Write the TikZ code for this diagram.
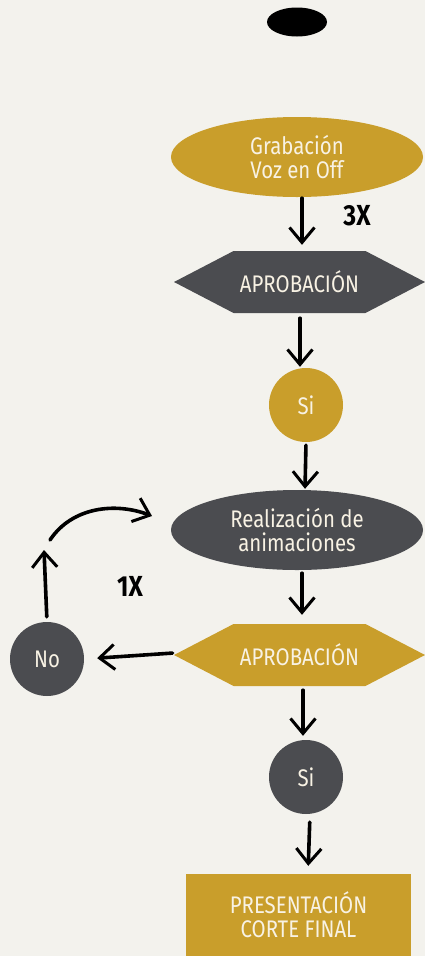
\documentclass[tikz,border=0pt]{standalone}
\usepackage{fontspec}
\setmainfont{Fira Sans}[FakeStretch=0.85]
\usetikzlibrary{shapes.geometric,shapes.symbols,arrows.meta}
\definecolor{paper}{RGB}{243,242,237}
\definecolor{gold}{RGB}{201,158,43}
\definecolor{slate}{RGB}{75,76,80}
\definecolor{cream}{RGB}{248,242,228}
\tikzset{
  lbl/.style={text=cream,font=\fontsize{24}{24}\selectfont,align=center,inner sep=0pt},
  ovalbox/.style={lbl,ellipse,minimum width=252pt,minimum height=80pt},
  hexbox/.style={lbl,signal,signal to=west and east,signal pointer angle=55,minimum width=251pt,minimum height=62pt},
  roundbox/.style={lbl,circle,minimum size=74pt},
  rectbox/.style={lbl,rectangle,minimum width=225pt,minimum height=82pt},
  blob/.style={ellipse,fill=black,minimum width=60pt,minimum height=29pt,inner sep=0pt},
  count/.style={font=\bfseries\fontsize{29}{29}\selectfont,text=black,inner sep=0pt},
  arr/.style={line width=3.6pt,line cap=round,-{Straight Barb[length=15pt,width=25pt,line width=3pt]}}
}
\begin{document}
\begin{tikzpicture}[x=1pt,y=-1pt]
\fill[paper] (0,0) rectangle (425,956);
\useasboundingbox (0,0) rectangle (425,956);

\node[blob] (start) at (297,22) {};
\node[ovalbox,fill=gold] (voz) at (297,157) {Grabación\\Voz en Off};
\node[hexbox,fill=slate] (ap1) at (299.5,282) {APROBACIÓN};
\node[roundbox,fill=gold] (si1) at (306,405) {Si};
\node[ovalbox,fill=slate] (anim) at (297,530) {Realización de\\animaciones};
\node[hexbox,fill=gold] (ap2) at (299.5,655) {APROBACIÓN};
\node[roundbox,fill=slate] (no) at (47,659) {No};
\node[roundbox,fill=slate] (si2) at (306,777) {Si};
\node[rectbox,fill=gold] (fin) at (298.5,915) {PRESENTACIÓN\\CORTE FINAL};

\node[count] (c3) at (357,216) {3X};
\node[count] (c1) at (130,586) {1X};

\coordinate (upend) at (44,550);
\coordinate (arcstart) at (50,540);
\coordinate (arcend) at (152,516);

\draw[arr,shorten <=1pt,shorten >=6pt] ([xshift=5pt]voz.south) -- ([xshift=2.5pt]ap1.north);
\draw[arr,shorten <=5pt,shorten >=1pt] ([xshift=0.5pt]ap1.south) -- ([xshift=-6pt]si1.north);
\draw[arr,shorten <=3pt,shorten >=1pt] (si1.south) -- ([xshift=8pt]anim.north);
\draw[arr,shorten <=3pt,shorten >=9pt] ([xshift=5pt]anim.south) -- ([xshift=2.5pt]ap2.north);
\draw[arr,shorten <=4pt,shorten >=4pt] ([xshift=3.5pt]ap2.south) -- ([xshift=-3pt]si2.north);
\draw[arr,shorten <=8pt,shorten >=8pt] ([xshift=4pt]si2.south) -- ([xshift=9.5pt]fin.north);
\draw[arr,shorten <=1pt,shorten >=13pt] ([yshift=2pt]ap2.west) -- (no.east);
\draw[arr,shorten <=5pt] (no.north) -- (upend);
\draw[arr] (arcstart) .. controls (72,507) and (115,502) .. (arcend);
\end{tikzpicture}
\end{document}
